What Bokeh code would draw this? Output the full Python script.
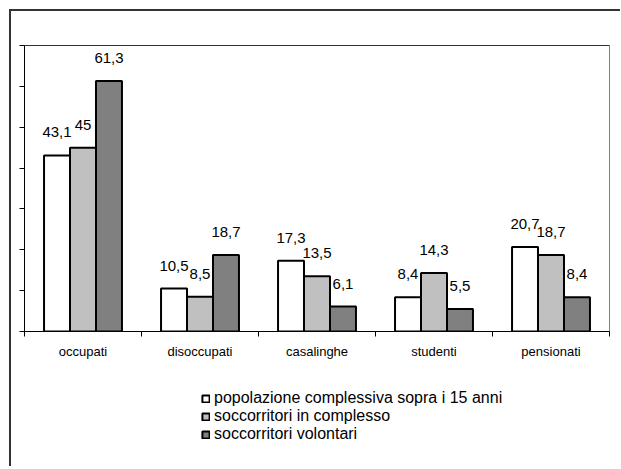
from bokeh.plotting import figure
from bokeh.layouts import column
from bokeh.models import (Range1d, FixedTicker, LinearAxis, Legend, LegendItem,
                          LabelSet, ColumnDataSource)
from bokeh.core.properties import value
from bokeh.embed import file_html
from bokeh.resources import INLINE

categories = ["occupati", "disoccupati", "casalinghe", "studenti", "pensionati"]
series_names = ["popolazione complessiva sopra i 15 anni",
                "soccorritori in complesso",
                "soccorritori volontari"]
popolazione = [43.1, 10.5, 17.3, 8.4, 20.7]
complesso = [45, 8.5, 13.5, 14.3, 18.7]
volontari = [61.3, 18.7, 6.1, 5.5, 8.4]
y_ticks = [0, 10, 20, 30, 40, 50, 60, 70]
colors = ["#FFFFFF", "#C0C0C0", "#808080"]
FONT = "Liberation Sans"

W = 609
p = figure(width=W, height=360, output_backend="svg", toolbar_location=None,
           x_range=Range1d(0, len(categories)), y_range=Range1d(0, 70),
           min_border_left=13, min_border_right=11, min_border_top=34,
           min_border_bottom=40)
p.xgrid.visible = False
p.ygrid.visible = False
p.outline_line_color = "#808080"
p.outline_line_width = 1

centers = [i + 0.5 for i in range(len(categories))]
offsets = [-0.222, 0.0, 0.222]
series = [popolazione, complesso, volontari]
for vals, col, off in zip(series, colors, offsets):
    src = ColumnDataSource(dict(
        x=[c + off for c in centers],
        top=vals,
        lab=[f"{v:g}".replace(".", ",") for v in vals],
    ))
    p.vbar(x="x", top="top", width=0.222, bottom=0, source=src,
           fill_color=col, line_color="black", line_width=2)
    p.add_layout(LabelSet(x="x", y="top", text="lab", source=src,
                          text_align="center", text_baseline="alphabetic",
                          y_offset=18, text_font=value(FONT), text_font_size=value("15px"),
                          text_color="black"))

# x axis
xa = p.xaxis[0]
xa.ticker = FixedTicker(ticks=centers, minor_ticks=list(range(len(categories) + 1)))
xa.major_label_overrides = {c: cat for c, cat in zip(centers, categories)}
xa.major_tick_out = 0
xa.major_tick_in = 0
xa.minor_tick_out = 5
xa.minor_tick_in = 0
xa.minor_tick_line_color = "black"
xa.axis_line_color = "black"
xa.axis_line_width = 1
xa.major_label_standoff = 7
xa.major_label_text_font = FONT
xa.major_label_text_font_size = "13px"
xa.major_label_text_color = "black"

# y axis
ya = p.yaxis[0]
ya.ticker = FixedTicker(ticks=y_ticks, minor_ticks=[])
ya.major_label_overrides = {t: "" for t in y_ticks}
ya.major_tick_out = 5
ya.major_tick_in = 0
ya.major_tick_line_color = "black"
ya.axis_line_color = "black"
ya.major_label_standoff = 0

# top border line of plot area
top_ax = LinearAxis(ticker=FixedTicker(ticks=[], minor_ticks=[]), axis_line_color="#333333",
                    major_tick_out=0, major_tick_in=0, minor_tick_out=0, minor_tick_in=0,
                    major_label_standoff=0)
p.add_layout(top_ax, "above")

# legend panel (swatch renderers hidden; legend draws their swatches)
p2 = figure(width=W, height=95, output_backend="svg", toolbar_location=None,
            x_range=Range1d(0, 1), y_range=Range1d(0, 1),
            x_axis_location=None, y_axis_location=None, min_border=0)
p2.xgrid.visible = False
p2.ygrid.visible = False
p2.outline_line_color = None
items = []
for name, col in zip(series_names, colors):
    r = p2.vbar(x=[0.5], top=[0.5], bottom=[0.4], width=0.1, fill_color=col,
                line_color="black", line_width=2)
    r.visible = False
    items.append(LegendItem(label=name, renderers=[r]))
legend = Legend(items=items, location=(177, 23), orientation="vertical",
                glyph_width=9, glyph_height=9, label_standoff=4,
                label_height=18, spacing=0, padding=0, margin=0,
                label_text_font=FONT, label_text_font_size="16px",
                label_text_color="black", inactive_fill_alpha=0,
                border_line_color=None, background_fill_alpha=0)
p2.add_layout(legend, "center")

layout = column(p, p2, spacing=0)
layout.styles = {"margin-left": "9px", "margin-top": "9px",
                 "border-left": "2px solid #333333", "border-top": "2px solid #333333"}

open("out.html", "w").write(file_html(layout, INLINE))
